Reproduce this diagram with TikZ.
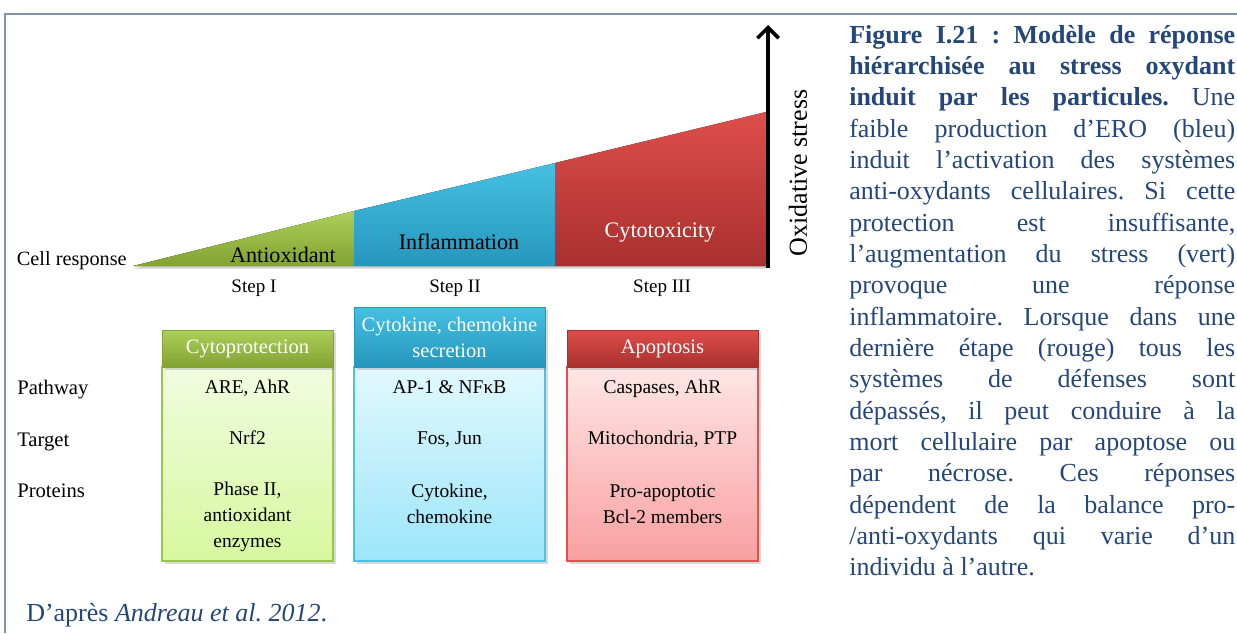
\documentclass[tikz,border=0pt]{standalone}
\usepackage{fontspec}
\setmainfont{Liberation Serif}
\usetikzlibrary{arrows.meta,shadows}
\definecolor{griscadre}{RGB}{128,146,174}
\definecolor{bleutxt}{RGB}{36,70,122}
\definecolor{vertA}{RGB}{172,208,90}
\definecolor{vertB}{RGB}{130,162,50}
\definecolor{vertC}{RGB}{241,252,224}
\definecolor{vertD}{RGB}{214,248,158}
\definecolor{vertE}{RGB}{150,198,74}
\definecolor{bleuA}{RGB}{70,192,226}
\definecolor{bleuB}{RGB}{38,150,188}
\definecolor{bleuC}{RGB}{226,248,254}
\definecolor{bleuD}{RGB}{156,230,250}
\definecolor{bleuE}{RGB}{72,194,230}
\definecolor{rougeA}{RGB}{222,78,74}
\definecolor{rougeB}{RGB}{168,48,46}
\definecolor{rougeC}{RGB}{254,230,230}
\definecolor{rougeD}{RGB}{249,160,160}
\definecolor{rougeE}{RGB}{222,82,80}
\newcommand\ligne[1]{\makebox[289.5pt][s]{#1}}% ligne justifiee de la legende
\tikzset{
  texte/.style = {inner sep=0pt, align=center},
  lbl_pas/.style = {texte, font=\fontsize{14.3}{17}\selectfont},% etapes
  lbl_zone/.style = {texte, font=\fontsize{16.6}{20}\selectfont},% zones du triangle
  lbl_ligne/.style = {texte, anchor=base west,
    font=\fontsize{15.5}{19}\selectfont},% noms des lignes
  lbl_case/.style = {texte, font=\fontsize{14.6}{19.5}\selectfont},% contenu des cases
  bx_tete/.style n args = {3}{texte, rectangle, top color=#1, bottom color=#2,
    draw=#2, text=white, font=\fontsize{15.4}{19.5}\selectfont,
    minimum width=#3, drop shadow={opacity=0.3}},% bandeau de titre
  bx_corps/.style n args = {3}{rectangle, top color=#1, bottom color=#2,
    draw=#3, line width=1pt, minimum width=143.25pt, minimum height=145.5pt,
    drop shadow={opacity=0.3}},% case du tableau
  zone/.style = {drop shadow={shadow xshift=0pt, shadow yshift=-2pt,
    opacity=0.35}},% morceau du triangle
  fleche/.style = {->, line width=2.7pt},% axe du stress
  cadre/.style = {draw=griscadre, line width=1.2pt},% bord de la page
  legende/.style = {inner sep=0pt, text width=289.5pt, align=justify,
    text=bleutxt, font=\fontsize{19.5}{23.5}\selectfont\frenchspacing}% texte de la figure
}
\begin{document}
\begin{tikzpicture}[x=0.75pt,y=-0.75pt,>={Straight Barb[length=8pt,width=16pt]}]
\useasboundingbox (0,0) rectangle (1237,633);
\draw[cadre] (5,633) -- (5,14) -- (1237,14);

\fill[zone, top color=vertA, bottom color=vertB] (133,266) -- (354,211) -- (354,266) -- cycle;
\fill[zone, top color=bleuA, bottom color=bleuB] (354,266) -- (354,211) -- (555,163) -- (555,266) -- cycle;
\fill[zone, top color=rougeA, bottom color=rougeB] (555,266) -- (555,163) -- (766,112) -- (766,266) -- cycle;
\coordinate (axebas) at (768,268);
\coordinate (axehaut) at (768,25);
\draw[fleche] (axebas) -- (axehaut);

\node[lbl_pas, anchor=base east, font=\fontsize{15.2}{18}\selectfont] (reponse) at (127,265) {Cell response};
\node[lbl_zone, anchor=base] (antiox) at (283,262) {Antioxidant};
\node[lbl_zone, anchor=base] (inflam) at (459,249) {Inflammation};
\node[lbl_zone, anchor=base, text=white] (cytotox) at (660,237) {Cytotoxicity};
\node[lbl_zone, rotate=90, font=\fontsize{19.5}{22}\selectfont] (stress) at (798,173) {Oxidative stress};
\node[lbl_pas, anchor=base] (etape1) at (254,292) {Step I};
\node[lbl_pas, anchor=base] (etape2) at (455,292) {Step II};
\node[lbl_pas, anchor=base] (etape3) at (662,292) {Step III};

\node[bx_corps={vertC}{vertD}{vertE}, minimum width=128.25pt] (grncorps) at (247.5,464) {};
\node[bx_corps={bleuC}{bleuD}{bleuE}] (blucorps) at (449.5,464) {};
\node[bx_corps={rougeC}{rougeD}{rougeE}] (rgcorps) at (662.5,464) {};
\node[bx_tete={vertA}{vertB}{128.25pt}, minimum height=27.75pt] (grntete) at (247.5,348.5) {Cytoprotection};
\node[bx_tete={bleuA}{bleuB}{143.25pt}, minimum height=45pt] (blutete) at (449.5,337) {Cytokine, chemokine\\secretion};
\node[bx_tete={rougeA}{rougeB}{143.25pt}, minimum height=27.75pt] (rgtete) at (662.5,348.5) {Apoptosis};

\node[lbl_ligne] (voie) at (17,394) {Pathway};
\node[lbl_ligne] (cible) at (17,446) {Target};
\node[lbl_ligne] (proteines) at (17,497) {Proteins};

\node[lbl_case, anchor=base] (grnvoie) at (247.5,393) {ARE, AhR};
\node[lbl_case, anchor=base] (grncible) at (247.5,444) {Nrf2};
\node[lbl_case] (grnprot) at (247.5,517) {Phase II,\\antioxidant\\enzymes};
\node[lbl_case, anchor=base] (bluvoie) at (449.5,393) {AP-1 \& NFκB};
\node[lbl_case, anchor=base] (blucible) at (449.5,444) {Fos, Jun};
\node[lbl_case] (bluprot) at (449.5,504) {Cytokine,\\chemokine};
\node[lbl_case, anchor=base] (rgvoie) at (662.5,393) {Caspases, AhR};
\node[lbl_case, anchor=base] (rgcible) at (662.5,444) {Mitochondria, PTP};
\node[lbl_case] (rgprot) at (662.5,504) {Pro-apoptotic\\Bcl-2 members};

\node[anchor=base west, inner sep=0pt, text=bleutxt, font=\fontsize{19.5}{22}\selectfont\frenchspacing] (source) at (26,621) {D’après \textit{Andreau et al. 2012}.};

\node[legende, anchor=north west] (legende) at (849,21) {%
\ligne{\strut\textbf{Figure I.21 : Modèle de réponse}}\\
\ligne{\textbf{hiérarchisée au stress oxydant}}\\
\ligne{\textbf{induit par les particules.} Une}\\
\ligne{faible production d’ERO (bleu)}\\
\ligne{induit l’activation des systèmes}\\
\ligne{anti-oxydants cellulaires. Si cette}\\
\ligne{protection est insuffisante,}\\
\ligne{l’augmentation du stress (vert)}\\
\ligne{provoque une réponse}\\
\ligne{inflammatoire. Lorsque dans une}\\
\ligne{dernière étape (rouge) tous les}\\
\ligne{systèmes de défenses sont}\\
\ligne{dépassés, il peut conduire à la}\\
\ligne{mort cellulaire par apoptose ou}\\
\ligne{par nécrose. Ces réponses}\\
\ligne{dépendent de la balance pro-}\\
\ligne{/anti-oxydants qui varie d’un}\\
individu à l’autre.};
\end{tikzpicture}
\end{document}
